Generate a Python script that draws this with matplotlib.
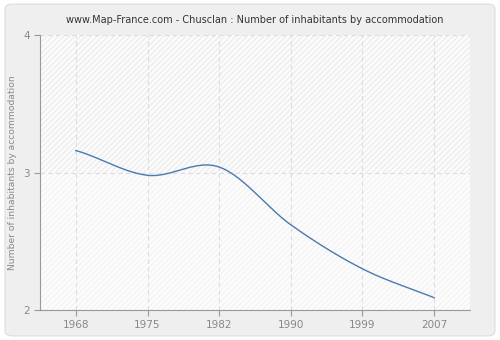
import numpy as np
import matplotlib
matplotlib.use("Agg")
import matplotlib.pyplot as plt
from matplotlib.patches import FancyBboxPatch

years = ["1968", "1975", "1982", "1990", "1999", "2007"]
values = [3.16, 2.98, 3.04, 2.62, 2.30, 2.09]

def smooth(x, y, n=30):
    # catmull-rom style cubic hermite between points
    x = np.asarray(x, float)
    y = np.asarray(y, float)
    m = np.zeros_like(y)
    m[1:-1] = (y[2:] - y[:-2]) / (x[2:] - x[:-2])
    m[0] = (y[1] - y[0]) / (x[1] - x[0]) * 0.8
    m[-1] = (y[-1] - y[-2]) / (x[-1] - x[-2])
    xs, ys = [], []
    for i in range(len(x) - 1):
        h = x[i + 1] - x[i]
        t = np.linspace(0, 1, n)
        h00 = 2 * t**3 - 3 * t**2 + 1
        h10 = t**3 - 2 * t**2 + t
        h01 = -2 * t**3 + 3 * t**2
        h11 = t**3 - t**2
        xs.append(x[i] + t * h)
        ys.append(h00 * y[i] + h10 * h * m[i] + h01 * y[i + 1] + h11 * h * m[i + 1])
    return np.concatenate(xs), np.concatenate(ys)

fig = plt.figure(figsize=(5, 3.4), dpi=100)
fig.patch.set_facecolor("white")
bg = FancyBboxPatch((0.01, 0.012), 0.98, 0.976, boxstyle="round,pad=0,rounding_size=0.015",
                    transform=fig.transFigure, facecolor="#efefef", edgecolor="#dddddd",
                    linewidth=0.8, zorder=-10)
fig.patches.append(bg)

ax = fig.add_axes([0.08, 0.088, 0.86, 0.809])
ax.set_facecolor("#fcfcfc")
ax.fill_between([-0.5, 5.5], 3, 4, facecolor="none", hatch="//////",
                edgecolor="#ededed", linewidth=0, zorder=0)
ax.fill_between([-0.5, 5.5], 2, 3, facecolor="none", hatch="//////",
                edgecolor="#f4f4f4", linewidth=0, zorder=0)

xi = np.arange(len(years))
sx, sy = smooth(xi, values)
ax.plot(sx, sy, color="#4a7ab0", linewidth=1.0, zorder=3)

ax.set_xlim(-0.5, 5.5)
ax.set_ylim(2, 4)
ax.set_xticks(xi)
ax.set_xticklabels(years)
ax.set_yticks([2, 3, 4])
ax.grid(True, color="#dddddd", linestyle=(0, (4, 3)), linewidth=0.8)
ax.set_axisbelow(True)

for s in ["top", "right"]:
    ax.spines[s].set_visible(False)
for s in ["left", "bottom"]:
    ax.spines[s].set_color("#999999")
ax.tick_params(colors="#999999", labelcolor="#888888", labelsize=7.5, length=4)

ax.set_ylabel("Number of inhabitants by accommodation", color="#888888", fontsize=6.6)
ax.set_title("www.Map-France.com - Chusclan : Number of inhabitants by accommodation",
             color="#333333", fontsize=7, pad=9)

fig.savefig("out.png", dpi=100)
